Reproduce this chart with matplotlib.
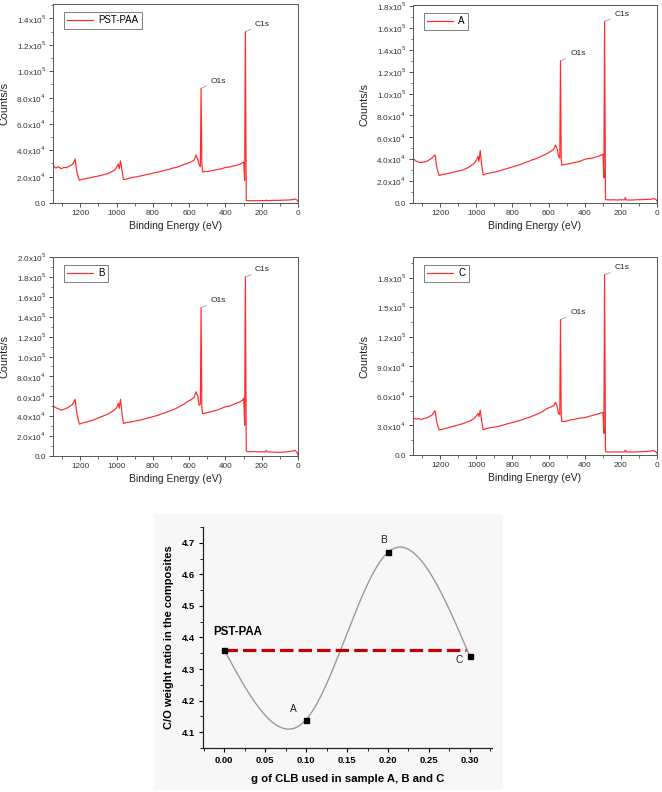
import numpy as np
import matplotlib
matplotlib.use("Agg")
import matplotlib.pyplot as plt
from matplotlib.patches import Rectangle
from matplotlib.ticker import MultipleLocator, FuncFormatter

plt.rcParams['font.family'] = ['Liberation Sans', 'DejaVu Sans']

# ---------------- XPS survey spectra (counts in units of 1e4 counts/s) ----------------
SCALE = 1e4
binding_energy = [1350, 1335, 1320, 1305, 1290, 1275, 1260, 1245, 1235, 1228,
                  1218, 1205, 1190, 1170, 1150, 1130, 1110, 1090, 1070, 1050,
                  1030, 1010, 998, 990, 985, 978, 970, 962, 950, 930,
                  910, 890, 870, 850, 830, 810, 790, 770, 750, 730,
                  710, 690, 670, 650, 630, 610, 590, 572, 562, 552,
                  545, 538, 534, 530, 526, 515, 500, 480, 460, 440,
                  420, 400, 380, 360, 340, 320, 306, 299, 294, 290,
                  285, 280, 260, 240, 220, 200, 180, 175, 170, 150,
                  130, 110, 90, 70, 50, 30, 20, 12, 5, 0]

counts_pst_paa = [2.85, 2.65, 2.75, 2.6, 2.7, 2.68, 2.8, 2.92, 3.1, 3.35,
                  2.3, 1.72, 1.8, 1.85, 1.9, 1.97, 2.02, 2.08, 2.15, 2.22,
                  2.35, 2.5, 2.75, 2.95, 2.6, 3.2, 2.5, 1.78, 1.8, 1.88,
                  1.95, 1.98, 2.05, 2.1, 2.18, 2.22, 2.3, 2.35, 2.42, 2.5,
                  2.55, 2.65, 2.7, 2.8, 2.92, 3.0, 3.12, 3.25, 3.65, 3.3,
                  2.9, 2.75, 8.7, 3.1, 2.35, 2.4, 2.38, 2.45, 2.5, 2.55,
                  2.6, 2.7, 2.72, 2.8, 2.85, 2.95, 3.05, 3.1, 1.72, 13.0,
                  0.2, 0.18, 0.17, 0.18, 0.17, 0.19, 0.18, 0.22, 0.18, 0.19,
                  0.2, 0.2, 0.21, 0.22, 0.23, 0.26, 0.3, 0.28, 0.22, 0.12]

counts_a = [4.1, 3.85, 3.75, 3.7, 3.75, 3.8, 3.95, 4.1, 4.3, 4.4,
            3.2, 2.5, 2.6, 2.65, 2.72, 2.8, 2.88, 2.95, 3.05, 3.2,
            3.4, 3.65, 3.95, 4.25, 3.8, 4.8, 3.5, 2.55, 2.65, 2.72,
            2.8, 2.85, 2.95, 3.05, 3.15, 3.25, 3.35, 3.45, 3.55, 3.7,
            3.8, 3.95, 4.05, 4.2, 4.35, 4.5, 4.7, 4.9, 5.3, 4.9,
            4.3, 4.1, 13.0, 4.0, 3.45, 3.5, 3.55, 3.6, 3.7, 3.75,
            3.85, 4.0, 4.05, 4.1, 4.2, 4.3, 4.4, 4.45, 2.3, 16.6,
            0.3, 0.3, 0.28, 0.3, 0.27, 0.3, 0.28, 0.5, 0.28, 0.27,
            0.28, 0.3, 0.3, 0.32, 0.33, 0.35, 0.4, 0.38, 0.3, 0.15]

counts_b = [5.05, 4.85, 4.75, 4.6, 4.7, 4.8, 4.95, 5.15, 5.45, 5.7,
            4.2, 3.2, 3.3, 3.4, 3.5, 3.6, 3.75, 3.9, 4.05, 4.2,
            4.4, 4.65, 4.9, 5.3, 4.8, 5.7, 4.3, 3.25, 3.35, 3.4,
            3.45, 3.55, 3.6, 3.7, 3.8, 3.9, 4.0, 4.1, 4.25, 4.35,
            4.5, 4.65, 4.8, 5.0, 5.2, 5.45, 5.65, 5.9, 6.45, 6.0,
            5.1, 5.2, 14.9, 5.0, 4.25, 4.3, 4.35, 4.45, 4.55, 4.65,
            4.8, 4.95, 5.0, 5.15, 5.3, 5.45, 5.6, 5.8, 3.1, 18.0,
            0.5, 0.45, 0.42, 0.45, 0.4, 0.42, 0.4, 0.55, 0.42, 0.4,
            0.38, 0.37, 0.38, 0.4, 0.45, 0.5, 0.57, 0.5, 0.35, 0.07]

counts_c = [3.8, 3.65, 3.7, 3.6, 3.7, 3.75, 3.9, 4.05, 4.3, 4.5,
            3.3, 2.55, 2.6, 2.7, 2.8, 2.9, 3.0, 3.1, 3.2, 3.35,
            3.5, 3.75, 4.0, 4.2, 3.9, 4.55, 3.5, 2.55, 2.65, 2.75,
            2.8, 2.85, 2.95, 3.05, 3.15, 3.25, 3.35, 3.45, 3.55, 3.7,
            3.8, 3.95, 4.1, 4.25, 4.45, 4.7, 4.85, 5.0, 5.35, 4.9,
            4.2, 4.1, 13.75, 4.0, 3.4, 3.4, 3.45, 3.55, 3.6, 3.7,
            3.75, 3.8, 3.9, 4.0, 4.1, 4.2, 4.3, 4.3, 2.2, 18.3,
            0.35, 0.32, 0.3, 0.32, 0.3, 0.32, 0.3, 0.5, 0.3, 0.32,
            0.3, 0.33, 0.32, 0.35, 0.38, 0.42, 0.44, 0.4, 0.3, 0.17]

sample_labels = ['PST-PAA', 'A', 'B', 'C']
peak_labels = ['O1s', 'C1s']
peak_energies = [534, 290]

# ---------------- C/O weight ratio ----------------
clb_grams = [0.0, 0.1, 0.2, 0.3]
co_ratio = [4.36, 4.14, 4.67, 4.34]
point_labels = ['', 'A', 'B', 'C']
pst_paa_ratio = 4.36
ref_line_x = [0.0, 0.295]

# ---------------- figure ----------------
W, H = 662, 792
fig = plt.figure(figsize=(W / 100, H / 100), dpi=100)

# light background panel behind the bottom chart
fig.patches.append(Rectangle((154 / W, 1 - 790 / H), (503 - 154) / W, (790 - 514) / H,
                             transform=fig.transFigure, facecolor='#f7f7f7',
                             edgecolor='none', zorder=-5))


def axes_px(left, top, right, bottom):
    return fig.add_axes([left / W, 1 - bottom / H, (right - left) / W, (bottom - top) / H])


def sci_fmt(v, pos):
    if abs(v) < 1e-9:
        return '0.0'
    e = int(np.floor(np.log10(abs(v)) + 1e-9))
    m = v / 10 ** e
    return r'%.1fx10$^{%d}$' % (m, e)


spec_cfg = [
    (counts_pst_paa, (53, 4, 298, 203), 1.51e5, 2e4),
    (counts_a, (413, 5, 657, 203), 1.81e5, 2e4),
    (counts_b, (53, 257, 298, 456), 2.0e5, 2e4),
    (counts_c, (413, 257, 657, 455), 2.01e5, 3e4),
]

red = '#ff2a2a'
spine_col = '#555555'
be = np.array(binding_energy, dtype=float)

for (vals, box, ymax, ystep), lab in zip(spec_cfg, sample_labels):
    ax = axes_px(*box)
    y = np.array(vals) * SCALE
    ax.plot(be, y, color=red, lw=0.85, label=lab)
    ax.set_xlim(1350, 0)
    ax.set_ylim(0, ymax)
    ax.xaxis.set_major_locator(MultipleLocator(200))
    ax.xaxis.set_minor_locator(MultipleLocator(100))
    ax.yaxis.set_major_locator(MultipleLocator(ystep))
    ax.yaxis.set_minor_locator(MultipleLocator(ystep / 2))
    ax.yaxis.set_major_formatter(FuncFormatter(sci_fmt))
    ax.tick_params(axis='both', which='major', direction='out', length=3, width=0.6,
                   labelsize=5.9, colors='#333333', pad=2)
    ax.tick_params(axis='both', which='minor', direction='out', length=1.8, width=0.5,
                   colors='#333333')
    for s in ax.spines.values():
        s.set_color(spine_col)
        s.set_linewidth(0.7)
    ax.set_xlabel('Binding Energy (eV)', fontsize=7.5, color='#222222', labelpad=3)
    ax.set_ylabel('Counts/s', fontsize=7.8, color='#222222', labelpad=5)
    leg = ax.legend(loc='upper left', fontsize=7, handlelength=2.6, frameon=True,
                    fancybox=False, borderpad=0.35, handletextpad=0.6,
                    bbox_to_anchor=(0.025, 0.985))
    leg.get_frame().set_edgecolor('#444444')
    leg.get_frame().set_linewidth(0.6)
    for pl, pe in zip(peak_labels, peak_energies):
        idx = int(np.argmin(np.abs(be - pe)))
        ax.annotate(pl, xy=(be[idx], y[idx]), xytext=(7, 5), textcoords='offset points',
                    fontsize=6, color='#222222', ha='left', va='center',
                    arrowprops=dict(arrowstyle='-', color='#888888', lw=0.5,
                                    shrinkA=1, shrinkB=0))


def natural_cubic_spline(x, y, xs):
    x = np.asarray(x, float)
    y = np.asarray(y, float)
    n = len(x)
    h = np.diff(x)
    A = np.zeros((n, n))
    r = np.zeros(n)
    A[0, 0] = 1
    A[-1, -1] = 1
    for i in range(1, n - 1):
        A[i, i - 1] = h[i - 1]
        A[i, i] = 2 * (h[i - 1] + h[i])
        A[i, i + 1] = h[i]
        r[i] = 6 * ((y[i + 1] - y[i]) / h[i] - (y[i] - y[i - 1]) / h[i - 1])
    M = np.linalg.solve(A, r)
    out = np.empty_like(xs)
    for k, xv in enumerate(xs):
        i = min(max(np.searchsorted(x, xv) - 1, 0), n - 2)
        t1 = x[i + 1] - xv
        t0 = xv - x[i]
        out[k] = (M[i] * t1 ** 3 + M[i + 1] * t0 ** 3) / (6 * h[i]) \
            + (y[i] / h[i] - M[i] * h[i] / 6) * t1 \
            + (y[i + 1] / h[i] - M[i + 1] * h[i] / 6) * t0
    return out


bx = axes_px(203, 527, 492, 748)
bx.set_facecolor('none')
xs = np.linspace(clb_grams[0], clb_grams[-1], 300)
bx.plot(xs, natural_cubic_spline(clb_grams, co_ratio, xs), color='#9a9a9a', lw=1.0, zorder=2)
bx.plot(ref_line_x, [pst_paa_ratio, pst_paa_ratio], color='#c00000', lw=2.3,
        dashes=(4.2, 1.6), zorder=3)
bx.plot(clb_grams, co_ratio, 's', color='black', markersize=3.6, zorder=4)
label_offsets = {'A': (-0.016, 0.032), 'B': (-0.006, 0.04), 'C': (-0.013, -0.01)}
for xv, yv, pl in zip(clb_grams, co_ratio, point_labels):
    if pl:
        dx, dy = label_offsets[pl]
        bx.text(xv + dx, yv + dy, pl, fontsize=7.3, color='#222222', ha='center', va='center')
bx.text(-0.013, 4.418, 'PST-PAA', fontsize=8.3, fontweight='bold', color='black',
        ha='left', va='center')
bx.set_xlim(-0.026, 0.327)
bx.set_ylim(4.05, 4.75)
bx.xaxis.set_major_locator(MultipleLocator(0.05))
bx.xaxis.set_minor_locator(MultipleLocator(0.025))
bx.yaxis.set_major_locator(MultipleLocator(0.1))
bx.yaxis.set_minor_locator(MultipleLocator(0.05))
bx.xaxis.set_major_formatter(FuncFormatter(lambda v, p: '%.2f' % v))
bx.yaxis.set_major_formatter(FuncFormatter(lambda v, p: '%.1f' % v))
bx.spines['top'].set_visible(False)
bx.spines['right'].set_visible(False)
for s in ('left', 'bottom'):
    bx.spines[s].set_linewidth(0.9)
    bx.spines[s].set_color('#222222')
bx.tick_params(axis='both', which='major', direction='out', length=3, width=0.8,
               labelsize=6.8, pad=3)
bx.tick_params(axis='both', which='minor', direction='out', length=2, width=0.6)
for t in bx.get_xticklabels() + bx.get_yticklabels():
    t.set_fontweight('bold')
bx.set_xlabel('g of CLB used in sample A, B and C', fontsize=8.2, fontweight='bold', labelpad=6)
bx.set_ylabel('C/O weight ratio in the composites', fontsize=8, fontweight='bold', labelpad=5)

fig.savefig('out.png', dpi=100)
